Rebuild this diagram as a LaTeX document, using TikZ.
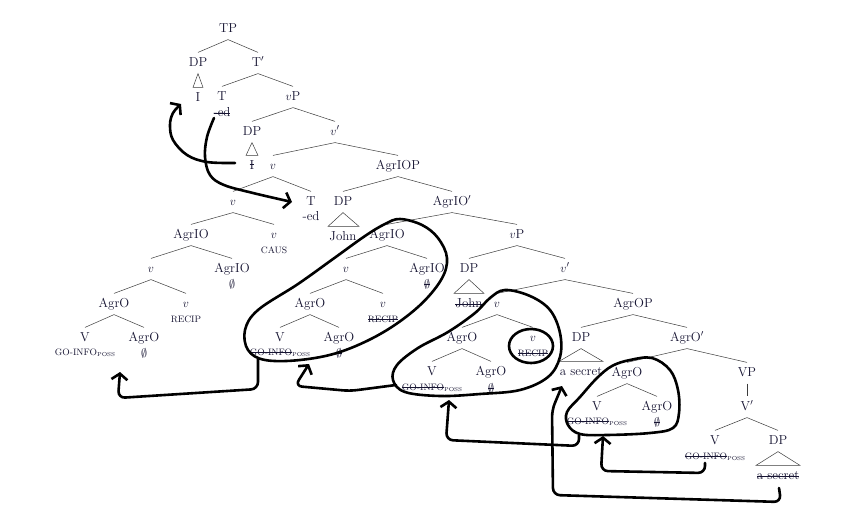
\documentclass[tikz,border=0pt]{standalone}
\usepackage{amsmath,amssymb}
\usepackage{xcolor}
\usepackage{tikz}
\usetikzlibrary{arrows.meta}
\definecolor{inkblue}{RGB}{22,20,50}
\definecolor{branchgray}{RGB}{60,60,60}
\newsavebox{\strikebox}
\newcommand{\struck}[2][0.5ex]{\sbox{\strikebox}{#2}\rlap{\rule[#1]{\wd\strikebox}{0.5pt}}\usebox{\strikebox}}
\newcommand{\poss}{\raisebox{-1.2pt}{\fontsize{5.8}{6}\selectfont POSS}}

\begin{document}
\begin{tikzpicture}[x=1pt,y=-1pt,
  cat/.style={text=inkblue,font=\fontsize{13}{15}\selectfont,inner xsep=1pt,inner ysep=4.5pt,text height=9pt,text depth=2.8pt},
  word/.style={text=inkblue,font=\fontsize{13}{15}\selectfont,inner sep=0pt},
  lex/.style={text=inkblue,font=\fontsize{9.3}{10}\selectfont,inner sep=0pt},
  branch/.style={draw=branchgray,line width=0.5pt},
  hand/.style={draw=black,line width=2.6pt,line cap=round,line join=round},
  move/.style={hand,rounded corners=7pt,-{Straight Barb[length=6pt,width=16pt]}}
]
\fill[white] (0,0) rectangle (851,519);
\useasboundingbox (0,0) rectangle (851,519);
% upper spine
\node[cat] (tp) at (228,29) {TP};
\node[cat] (dpA) at (198,63) {DP};
\node[cat] (tbar) at (258,63) {T$'$};
\node[cat] (iA) at (198,98) {I};
\node[cat] (tA) at (222,97) {T};
\node[word] (edA) at (222,112) {\struck{-ed}};
\node[cat] (vpA) at (293,97) {$v$P};
\node[cat] (dpB) at (252,132) {DP};
\node[cat] (vbarA) at (335,132) {$v'$};
\node[cat] (iB) at (252,166) {\struck[0.75ex]{I}};
\node[cat] (vA) at (273,166) {$v$};
\node[cat] (agriop) at (398,166) {AgrIOP};
\node[cat] (vB) at (233,202) {$v$};
\node[cat] (tB) at (311,202) {T};
\node[word] (edB) at (311,216) {-ed};
\node[cat] (dpC) at (343,202) {DP};
\node[cat] (agriobarA) at (452,202) {AgrIO$'$};
\node[cat] (johnA) at (343,237) {John};
% complex head
\node[cat] (agrioA) at (191,235) {AgrIO};
\node[cat] (vC) at (274,235) {$v$};
\node[lex] (caus) at (274,250) {CAUS};
\node[cat] (vD) at (151,269) {$v$};
\node[cat] (agrioB) at (232,269) {AgrIO};
\node[word] (nullA) at (232,284) {$\emptyset$};
\node[cat] (agroA) at (114,304) {AgrO};
\node[cat] (vE) at (186,304) {$v$};
\node[lex] (recipA) at (186,319) {RECIP};
\node[cat] (vF) at (85,338) {V};
\node[lex] (goA) at (85,353) {GO-INFO\poss};
\node[cat] (agroB) at (144,338) {AgrO};
\node[word] (nullB) at (144,353) {$\emptyset$};
% AgrIO copy
\node[cat] (agrioC) at (387,235) {AgrIO};
\node[cat] (vpB) at (517,235) {$v$P};
\node[cat] (vG) at (346,269) {$v$};
\node[cat] (agrioD) at (427,269) {AgrIO};
\node[word] (nullC) at (427,284) {\struck[0.6ex]{$\emptyset$}};
\node[cat] (agroC) at (310,304) {AgrO};
\node[cat] (vH) at (383,304) {$v$};
\node[lex] (recipB) at (383,319) {\struck[0.75ex]{RECIP}};
\node[cat] (vI) at (280,338) {V};
\node[lex] (goB) at (280,353) {\struck[0.75ex]{GO-INFO}\poss};
\node[cat] (agroD) at (339,338) {AgrO};
\node[word] (nullD) at (339,353) {\struck[0.6ex]{$\emptyset$}};
% vP
\node[cat] (dpD) at (469,269) {DP};
\node[cat] (vbarB) at (565,269) {$v'$};
\node[cat] (johnB) at (469,304) {\struck{John}};
\node[cat] (vJ) at (497,304) {$v$};
\node[cat] (agrop) at (633,304) {AgrOP};
\node[cat] (agroE) at (462,338) {AgrO};
\node[cat] (vK) at (533,338) {$v$};
\node[lex] (recipC) at (533,353) {\struck[0.75ex]{RECIP}};
\node[cat] (vL) at (432,372) {V};
\node[lex] (goC) at (432,388) {\struck[0.75ex]{GO-INFO}\poss};
\node[cat] (agroF) at (491,372) {AgrO};
\node[word] (nullE) at (491,388) {\struck[0.6ex]{$\emptyset$}};
% AgrOP
\node[cat] (dpE) at (581,338) {DP};
\node[cat] (agrobar) at (687,338) {AgrO$'$};
\node[cat] (secretA) at (581,372) {a secret};
\node[cat] (agroG) at (627,373) {AgrO};
\node[cat] (vp) at (747,373) {VP};
\node[cat] (vM) at (597,407) {V};
\node[lex] (goD) at (597,422) {\struck[0.75ex]{GO-INFO}\poss};
\node[cat] (agroH) at (657,407) {AgrO};
\node[word] (nullF) at (657,422) {\struck[0.6ex]{$\emptyset$}};
\node[cat] (vbar) at (747,407) {V$'$};
\node[cat] (vN) at (715,441) {V};
\node[lex] (goE) at (715,457) {\struck[0.75ex]{GO-INFO}\poss};
\node[cat] (dpF) at (778,441) {DP};
\node[cat] (secretB) at (778,476) {\struck{a secret}};

\draw[branch] (tp.south) -- (dpA.north) (tp.south) -- (tbar.north);
\draw[branch] (tbar.south) -- (tA.north) (tbar.south) -- (vpA.north);
\draw[branch] (vpA.south) -- (dpB.north) (vpA.south) -- (vbarA.north);
\draw[branch] (vbarA.south) -- (vA.north) (vbarA.south) -- (agriop.north);
\draw[branch] (vA.south) -- (vB.north) (vA.south) -- (tB.north);
\draw[branch] (agriop.south) -- (dpC.north) (agriop.south) -- (agriobarA.north);
\draw[branch] (vB.south) -- (agrioA.north) (vB.south) -- (vC.north);
\draw[branch] (agrioA.south) -- (vD.north) (agrioA.south) -- (agrioB.north);
\draw[branch] (vD.south) -- (agroA.north) (vD.south) -- (vE.north);
\draw[branch] (agroA.south) -- (vF.north) (agroA.south) -- (agroB.north);
\draw[branch] (agriobarA.south) -- (agrioC.north) (agriobarA.south) -- (vpB.north);
\draw[branch] (agrioC.south) -- (vG.north) (agrioC.south) -- (agrioD.north);
\draw[branch] (vG.south) -- (agroC.north) (vG.south) -- (vH.north);
\draw[branch] (agroC.south) -- (vI.north) (agroC.south) -- (agroD.north);
\draw[branch] (vpB.south) -- (dpD.north) (vpB.south) -- (vbarB.north);
\draw[branch] (vbarB.south) -- (vJ.north) (vbarB.south) -- (agrop.north);
\draw[branch] (vJ.south) -- (agroE.north) (vJ.south) -- (vK.north);
\draw[branch] (agroE.south) -- (vL.north) (agroE.south) -- (agroF.north);
\draw[branch] (agrop.south) -- (dpE.north) (agrop.south) -- (agrobar.north);
\draw[branch] (agrobar.south) -- (agroG.north) (agrobar.south) -- (vp.north);
\draw[branch] (agroG.south) -- (vM.north) (agroG.south) -- (agroH.north);
\draw[branch] (vp.south) -- (vbar.north);
\draw[branch] (vbar.south) -- (vN.north) (vbar.south) -- (dpF.north);
% triangles
\draw[branch] (dpA.south) -- ([xshift=-5pt]iA.north) -- ([xshift=5pt]iA.north) -- cycle;
\draw[branch] (dpB.south) -- ([xshift=-6pt]iB.north) -- ([xshift=6pt]iB.north) -- cycle;
\draw[branch] (dpC.south) -- ([xshift=-15pt]johnA.north) -- ([xshift=16pt]johnA.north) -- cycle;
\draw[branch] (dpD.south) -- ([xshift=-15pt]johnB.north) -- ([xshift=15pt]johnB.north) -- cycle;
\draw[branch] (dpE.south) -- ([xshift=-22pt]secretA.north) -- ([xshift=22pt]secretA.north) -- cycle;
\draw[branch] (dpF.south) -- ([xshift=-22pt]secretB.north) -- ([xshift=22pt]secretB.north) -- cycle;

% hand-drawn loops
\draw[hand] plot[smooth cycle,tension=0.6] coordinates {(400,219) (422,225) (438,238) (447,258) (441,280) (418,307) (382,333) (340,352) (300,360) (265,360) (248,350) (245,330) (258,310) (298,284) (333,259) (365,236) (385,224)};
\draw[hand] plot[smooth cycle,tension=0.6] coordinates {(505,290) (530,296) (550,310) (560,333) (560,357) (548,377) (520,390) (480,394) (440,396) (405,392) (393,380) (397,365) (418,348) (448,332) (475,313) (490,298)};
\draw[hand] plot[smooth cycle,tension=0.6] coordinates {(630,360) (652,358) (670,370) (678,390) (679,413) (673,428) (650,433) (607,435) (580,434) (568,425) (567,412) (580,397) (597,378) (612,366)};
\draw[hand] (531,346) ellipse [x radius=22pt,y radius=17pt];

% hand-drawn arrows
\coordinate (mvAs) at (235,163);
\coordinate (mvAe) at (181,104);
\draw[hand,-{Straight Barb[length=6pt,width=16pt]}] plot[smooth,tension=0.6] coordinates {(mvAs) (207,162) (187,155) (173,140) (170,125) (173,113) (mvAe)};
\coordinate (mvBs) at (214,118);
\coordinate (mvBe) at (292,202);
\draw[hand,-{Straight Barb[length=6pt,width=16pt]}] plot[smooth,tension=0.6] coordinates {(mvBs) (207,137) (205,157) (210,175) (224,185) (253,193) (mvBe)};
\coordinate (mvCs) at (258,359);
\coordinate (mvCe) at (120,372);
\draw[move] (mvCs) -- (258,389) -- (118,398) -- (mvCe);
\coordinate (mvDs) at (396,385);
\coordinate (mvDe) at (309,364);
\draw[move] (mvDs) -- (350,391) -- (295,386) -- (mvDe);
\coordinate (mvEs) at (579,435);
\coordinate (mvEe) at (449,400);
\draw[move] (mvEs) -- (579,446) -- (446,440) -- (mvEe);
\coordinate (mvFs) at (705,463);
\coordinate (mvFe) at (603,436);
\draw[move] (mvFs) -- (705,473) -- (601,471) -- (mvFe);
\coordinate (mvGs) at (779,488);
\coordinate (mvGe) at (562,386);
\draw[move] (mvGs) -- (781,502) -- (553,495) -- (552,410) -- (mvGe);
\end{tikzpicture}
\end{document}
